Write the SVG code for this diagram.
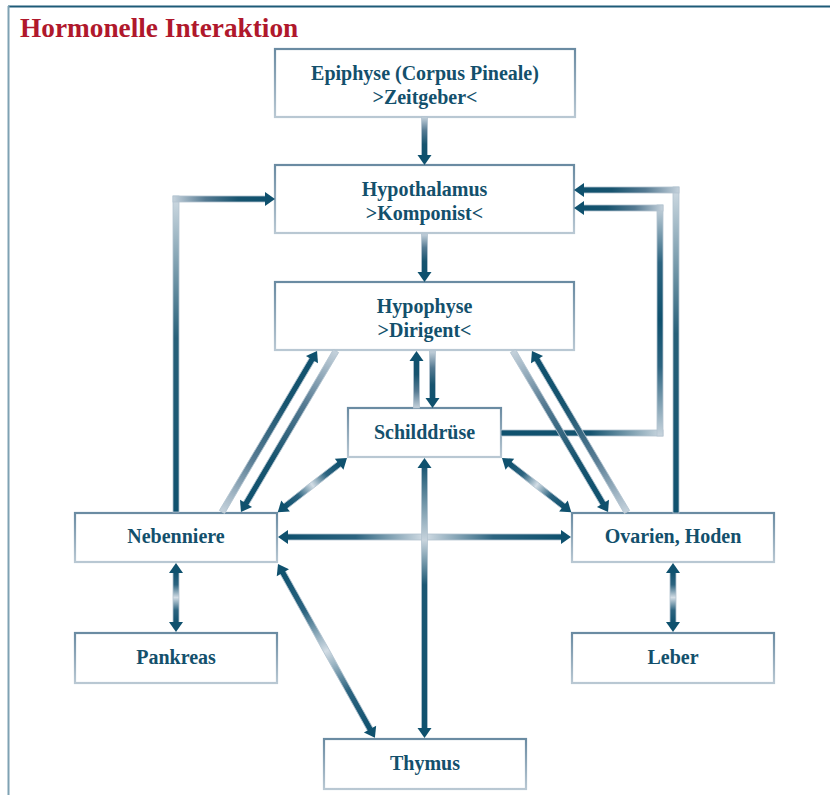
<svg xmlns="http://www.w3.org/2000/svg" width="830" height="795" viewBox="0 0 830 795">
<defs>
<linearGradient id="gF" x1="0" y1="0" x2="1" y2="0"><stop offset="0" stop-color="#c5d2dc"/><stop offset="0.35" stop-color="#557a92"/><stop offset="0.7" stop-color="#17546f"/><stop offset="1" stop-color="#0f516e"/></linearGradient>
<linearGradient id="gR" x1="0" y1="0" x2="1" y2="0"><stop offset="0" stop-color="#0f516e"/><stop offset="0.55" stop-color="#276079"/><stop offset="1" stop-color="#d0dbe3"/></linearGradient>
<linearGradient id="gR2" x1="0" y1="0" x2="1" y2="0"><stop offset="0" stop-color="#0f516e"/><stop offset="0.55" stop-color="#14536f"/><stop offset="1" stop-color="#d0dbe3"/></linearGradient>
<linearGradient id="gD" x1="0" y1="0" x2="1" y2="0"><stop offset="0" stop-color="#0f516e"/><stop offset="0.25" stop-color="#2c6480"/><stop offset="0.5" stop-color="#d3dde5"/><stop offset="0.75" stop-color="#2c6480"/><stop offset="1" stop-color="#0f516e"/></linearGradient>
<linearGradient id="gV" x1="0" y1="0" x2="1" y2="0"><stop offset="0" stop-color="#1b5773"/><stop offset="0.28" stop-color="#c8d4dd"/><stop offset="0.45" stop-color="#1b5773"/><stop offset="1" stop-color="#0f516e"/></linearGradient>
<linearGradient id="gLDL" x1="0" y1="0" x2="1" y2="0"><stop offset="0" stop-color="#c9d5de"/><stop offset="0.3" stop-color="#2c6480"/><stop offset="0.5" stop-color="#0f516e"/><stop offset="0.75" stop-color="#2c6480"/><stop offset="1" stop-color="#c9d5de"/></linearGradient>
<linearGradient id="gBox" x1="0" y1="0" x2="0" y2="1"><stop offset="0" stop-color="#6a8ba2"/><stop offset="1" stop-color="#b9c8d3"/></linearGradient>
<style>
.sh{stroke:#b3c4d0;stroke-width:0.8}
.hd{fill:#0f516e}
.box{fill:#fff;stroke:url(#gBox);stroke-width:2.2}
.t{font-family:"Liberation Serif","Times New Roman",serif;font-weight:bold;font-size:20px;fill:#13506c;text-anchor:middle}
</style>
</defs>
<rect x="0" y="0" width="830" height="795" fill="#fff"/>
<line x1="8" y1="6.5" x2="830" y2="6.5" stroke="#1e5b78" stroke-width="2"/>
<line x1="8.5" y1="6" x2="8.5" y2="795" stroke="#7fa2b3" stroke-width="2"/>
<text x="20" y="37" font-family="'Liberation Serif','Times New Roman',serif" font-weight="bold" font-size="27.3" fill="#b0182c">Hormonelle Interaktion</text>

<g id="epiphyse"><rect class="box" x="275" y="49" width="300" height="68"/><text class="t" x="425" y="80">Epiphyse (Corpus Pineale)</text><text class="t" x="425" y="104">&gt;Zeitgeber&lt;</text></g>
<g id="hypothalamus"><rect class="box" x="275" y="165" width="299" height="68"/><text class="t" x="424.5" y="196">Hypothalamus</text><text class="t" x="424.5" y="220">&gt;Komponist&lt;</text></g>
<g id="hypophyse"><rect class="box" x="275" y="282" width="299" height="68"/><text class="t" x="424.5" y="313">Hypophyse</text><text class="t" x="424.5" y="337">&gt;Dirigent&lt;</text></g>
<g id="schilddruese"><rect class="box" x="348" y="408" width="153" height="49"/><text class="t" x="424.5" y="439">Schilddrüse</text></g>
<g id="nebenniere"><rect class="box" x="75" y="513" width="202" height="49"/><text class="t" x="176" y="543">Nebenniere</text></g>
<g id="ovarien"><rect class="box" x="572" y="513" width="202" height="49"/><text class="t" x="673" y="543">Ovarien, Hoden</text></g>
<g id="pankreas"><rect class="box" x="75" y="633" width="202" height="50"/><text class="t" x="176" y="664">Pankreas</text></g>
<g id="leber"><rect class="box" x="572" y="633" width="202" height="50"/><text class="t" x="673" y="664">Leber</text></g>
<g id="thymus"><rect class="box" x="324" y="739" width="202" height="50"/><text class="t" x="425" y="770">Thymus</text></g>

<g id="connectors">
<g transform="translate(424.5,117) rotate(90)"><rect class="sh" x="0" y="-3" width="39" height="6" fill="url(#gF)"/><polygon class="hd" points="38,-7 48,0 38,7"/></g>
<g transform="translate(424.5,234) rotate(90)"><rect class="sh" x="0" y="-3" width="39" height="6" fill="url(#gF)"/><polygon class="hd" points="38,-7 48,0 38,7"/></g>
<g transform="translate(416.5,408) rotate(-90)"><rect class="sh" x="0" y="-3" width="48" height="6" fill="url(#gF)"/><polygon class="hd" points="47,-7 57,0 47,7"/></g>
<g transform="translate(432.5,351) rotate(90)"><rect class="sh" x="0" y="-3" width="48" height="6" fill="url(#gF)"/><polygon class="hd" points="47,-7 57,0 47,7"/></g>

<g transform="translate(176,512) rotate(-90)"><rect class="sh" x="0" y="-3" width="316" height="6" fill="url(#gR)"/></g>
<g transform="translate(173,199)"><rect class="sh" x="0" y="-3" width="93" height="6" fill="url(#gF)"/><polygon class="hd" points="92,-7 102,0 92,7"/></g>
<g transform="translate(676,513) rotate(-90)"><rect class="sh" x="0" y="-3" width="326" height="6" fill="url(#gR)"/></g>
<g transform="translate(679,190) rotate(180)"><rect class="sh" x="0" y="-3" width="96" height="6" fill="url(#gF)"/><polygon class="hd" points="95,-7 105,0 95,7"/></g>
<g transform="translate(501,433)"><rect class="sh" x="0" y="-3" width="162" height="6" fill="url(#gR2)"/></g>
<g transform="translate(660,436) rotate(-90)"><rect class="sh" x="0" y="-3" width="231" height="6" fill="url(#gLDL)"/></g>
<g transform="translate(663,208) rotate(180)"><rect class="sh" x="0" y="-3" width="80" height="6" fill="url(#gF)"/><polygon class="hd" points="79,-7 89,0 79,7"/></g>

<g transform="translate(222,512) rotate(-59.45)"><rect class="sh" x="0" y="-3" width="178" height="6" fill="url(#gF)"/><polygon class="hd" points="177,-7 187,0 177,7"/></g>
<g transform="translate(336,351) rotate(120.55)"><rect class="sh" x="0" y="-3" width="178" height="6" fill="url(#gF)"/><polygon class="hd" points="177,-7 187,0 177,7"/></g>
<g transform="translate(627,512) rotate(-120.55)"><rect class="sh" x="0" y="-3" width="178" height="6" fill="url(#gF)"/><polygon class="hd" points="177,-7 187,0 177,7"/></g>
<g transform="translate(513,351) rotate(59.45)"><rect class="sh" x="0" y="-3" width="178" height="6" fill="url(#gF)"/><polygon class="hd" points="177,-7 187,0 177,7"/></g>

<g transform="translate(347,458) rotate(141.95)"><rect class="sh" x="9" y="-3" width="70" height="6" fill="url(#gD)"/><polygon class="hd" points="10,-7 0,0 10,7"/><polygon class="hd" points="78,-7 88,0 78,7"/></g>
<g transform="translate(502,458) rotate(38.05)"><rect class="sh" x="9" y="-3" width="70" height="6" fill="url(#gD)"/><polygon class="hd" points="10,-7 0,0 10,7"/><polygon class="hd" points="78,-7 88,0 78,7"/></g>
<g transform="translate(278,537)"><rect class="sh" x="9" y="-3" width="275" height="6" fill="url(#gD)"/><polygon class="hd" points="10,-7 0,0 10,7"/><polygon class="hd" points="283,-7 293,0 283,7"/></g>
<g transform="translate(424.5,458) rotate(90)"><rect class="sh" x="9" y="-3" width="262" height="6" fill="url(#gV)"/><polygon class="hd" points="10,-7 0,0 10,7"/><polygon class="hd" points="270,-7 280,0 270,7"/></g>
<g transform="translate(278,564) rotate(60.86)"><rect class="sh" x="9" y="-3" width="181" height="6" fill="url(#gD)"/><polygon class="hd" points="10,-7 0,0 10,7"/><polygon class="hd" points="189,-7 199,0 189,7"/></g>
<g transform="translate(176,563) rotate(90)"><rect class="sh" x="9" y="-3" width="51" height="6" fill="url(#gD)"/><polygon class="hd" points="10,-7 0,0 10,7"/><polygon class="hd" points="59,-7 69,0 59,7"/></g>
<g transform="translate(673,563) rotate(90)"><rect class="sh" x="9" y="-3" width="51" height="6" fill="url(#gD)"/><polygon class="hd" points="10,-7 0,0 10,7"/><polygon class="hd" points="59,-7 69,0 59,7"/></g>
</g>
</svg>
